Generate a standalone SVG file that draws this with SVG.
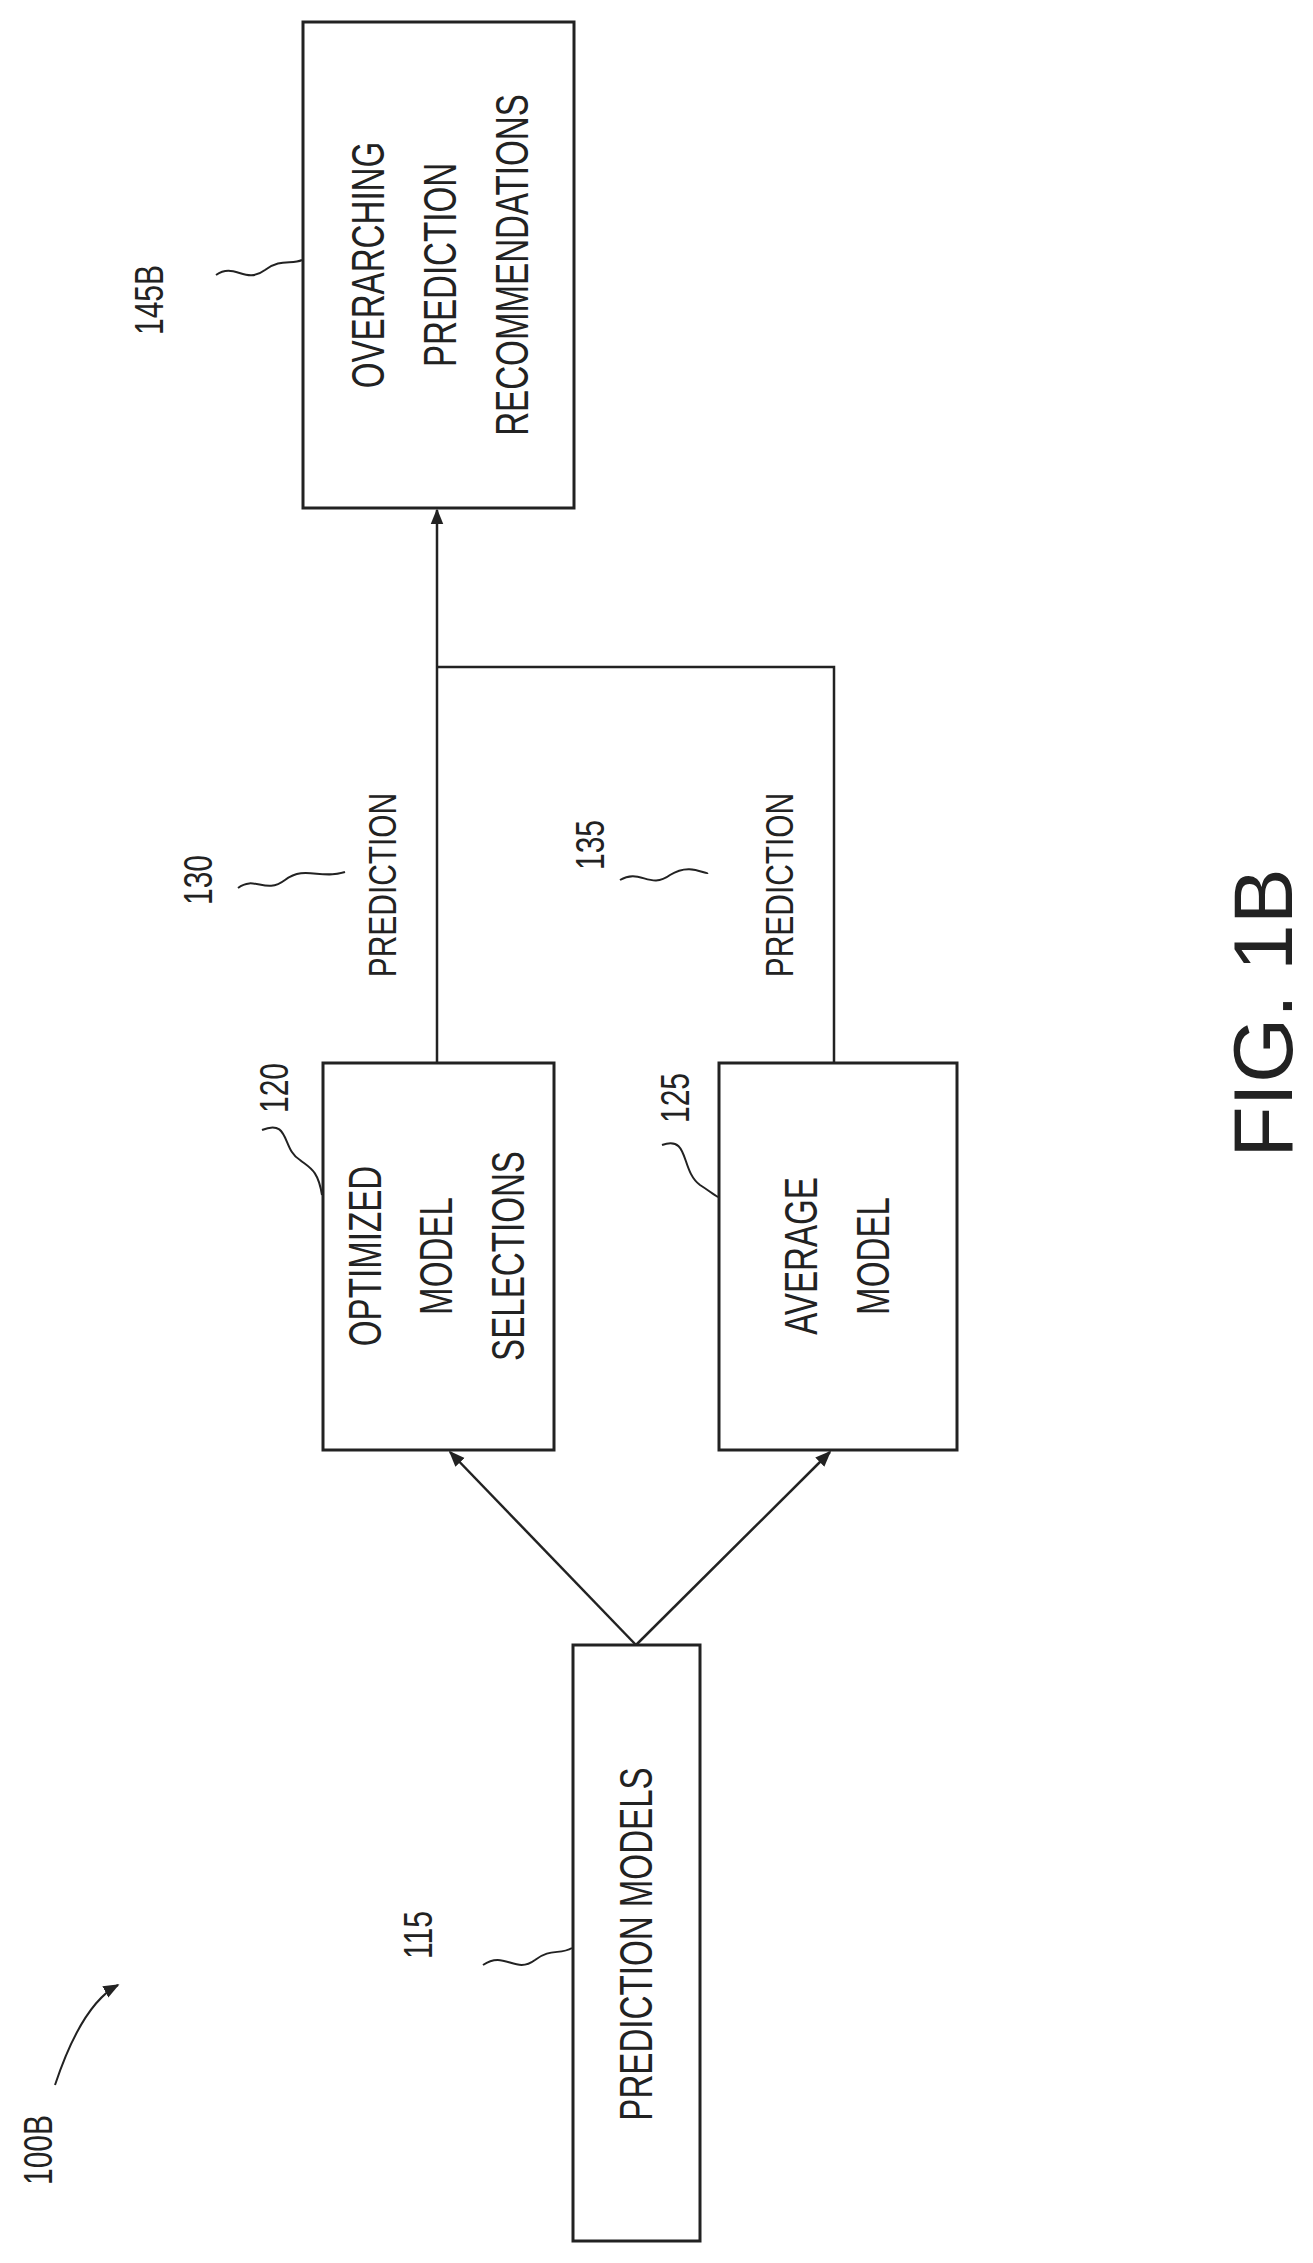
<svg xmlns="http://www.w3.org/2000/svg" width="1313" height="2263" viewBox="0 0 1313 2263">
<style>
.box{fill:#fff;stroke:#222;stroke-width:3}
.ln{fill:none;stroke:#222;stroke-width:2.5}
.sq{fill:none;stroke:#222;stroke-width:2}
text{font-family:"Liberation Sans","DejaVu Sans",sans-serif;fill:#222;text-anchor:middle;dominant-baseline:central}
.t{font-size:46px}
.r{font-size:40px}
</style>
<defs>
<marker id="b" viewBox="0 0 10 10" refX="9" refY="5" markerWidth="16" markerHeight="16" orient="auto" markerUnits="userSpaceOnUse"><path d="M0,1L10,5L0,9z" fill="#222"/></marker>
</defs>
<g id="connectors">
<line class="ln" x1="636" y1="1645" x2="450" y2="1452" marker-end="url(#b)"/>
<line class="ln" x1="636" y1="1645" x2="830" y2="1452" marker-end="url(#b)"/>
<polyline class="ln" points="437,1063 437,510" marker-end="url(#b)"/>
<polyline class="ln" points="437,667 834,667 834,1063"/>
</g>
<g id="n145B"><rect class="box" x="303" y="22" width="271" height="486"/>
<text class="t" transform="translate(368,265) rotate(-90) scale(0.72,1)">OVERARCHING</text>
<text class="t" transform="translate(440,265) rotate(-90) scale(0.72,1)">PREDICTION</text>
<text class="t" transform="translate(512,265) rotate(-90) scale(0.72,1)">RECOMMENDATIONS</text></g>
<g id="n120"><rect class="box" x="323" y="1063" width="231" height="387"/>
<text class="t" transform="translate(365,1256) rotate(-90) scale(0.72,1)">OPTIMIZED</text>
<text class="t" transform="translate(436,1256) rotate(-90) scale(0.72,1)">MODEL</text>
<text class="t" transform="translate(508,1256) rotate(-90) scale(0.72,1)">SELECTIONS</text></g>
<g id="n125"><rect class="box" x="719" y="1063" width="238" height="387"/>
<text class="t" transform="translate(801,1256) rotate(-90) scale(0.72,1)">AVERAGE</text>
<text class="t" transform="translate(873,1256) rotate(-90) scale(0.72,1)">MODEL</text></g>
<g id="n115"><rect class="box" x="573" y="1645" width="127" height="596"/>
<text class="t" transform="translate(636,1944) rotate(-90) scale(0.72,1)">PREDICTION MODELS</text></g>
<g id="labels">
<text class="t" transform="translate(382,885) rotate(-90) scale(0.65,0.85)">PREDICTION</text>
<text class="t" transform="translate(779,885) rotate(-90) scale(0.65,0.85)">PREDICTION</text>
<text class="r" transform="translate(198,880) rotate(-90) scale(0.75,1)">130</text>
<path class="sq" d="M238,888 C255,875 265,895 285,880 C305,865 320,880 345,872"/>
<text class="r" transform="translate(590,845) rotate(-90) scale(0.75,1)">135</text>
<path class="sq" d="M620,880 C640,868 650,890 670,875 C690,862 705,875 708,873"/>
<text class="r" transform="translate(274,1088) rotate(-90) scale(0.75,1)">120</text>
<path class="sq" d="M262,1130 C290,1118 282,1150 300,1160 C310,1168 318,1170 322,1195"/>
<text class="r" transform="translate(675,1098) rotate(-90) scale(0.75,1)">125</text>
<path class="sq" d="M662,1145 C690,1135 680,1170 700,1185 C708,1190 714,1195 718,1197"/>
<text class="r" transform="translate(418,1935) rotate(-90) scale(0.75,1)">115</text>
<path class="sq" d="M483,1965 C505,1950 515,1975 535,1960 C550,1948 560,1955 572,1948"/>
<text class="r" transform="translate(149,300) rotate(-90) scale(0.75,1)">145B</text>
<path class="sq" d="M216,275 C235,262 245,285 265,270 C280,258 292,265 302,260"/>
<text class="r" transform="translate(38,2150) rotate(-90) scale(0.75,1)">100B</text>
<path class="sq" d="M55,2085 C70,2040 90,2000 118,1985" marker-end="url(#b)"/>
<text style="font-size:84px" transform="translate(1263,1013) rotate(-90)">FIG. 1B</text>
</g>
</svg>
